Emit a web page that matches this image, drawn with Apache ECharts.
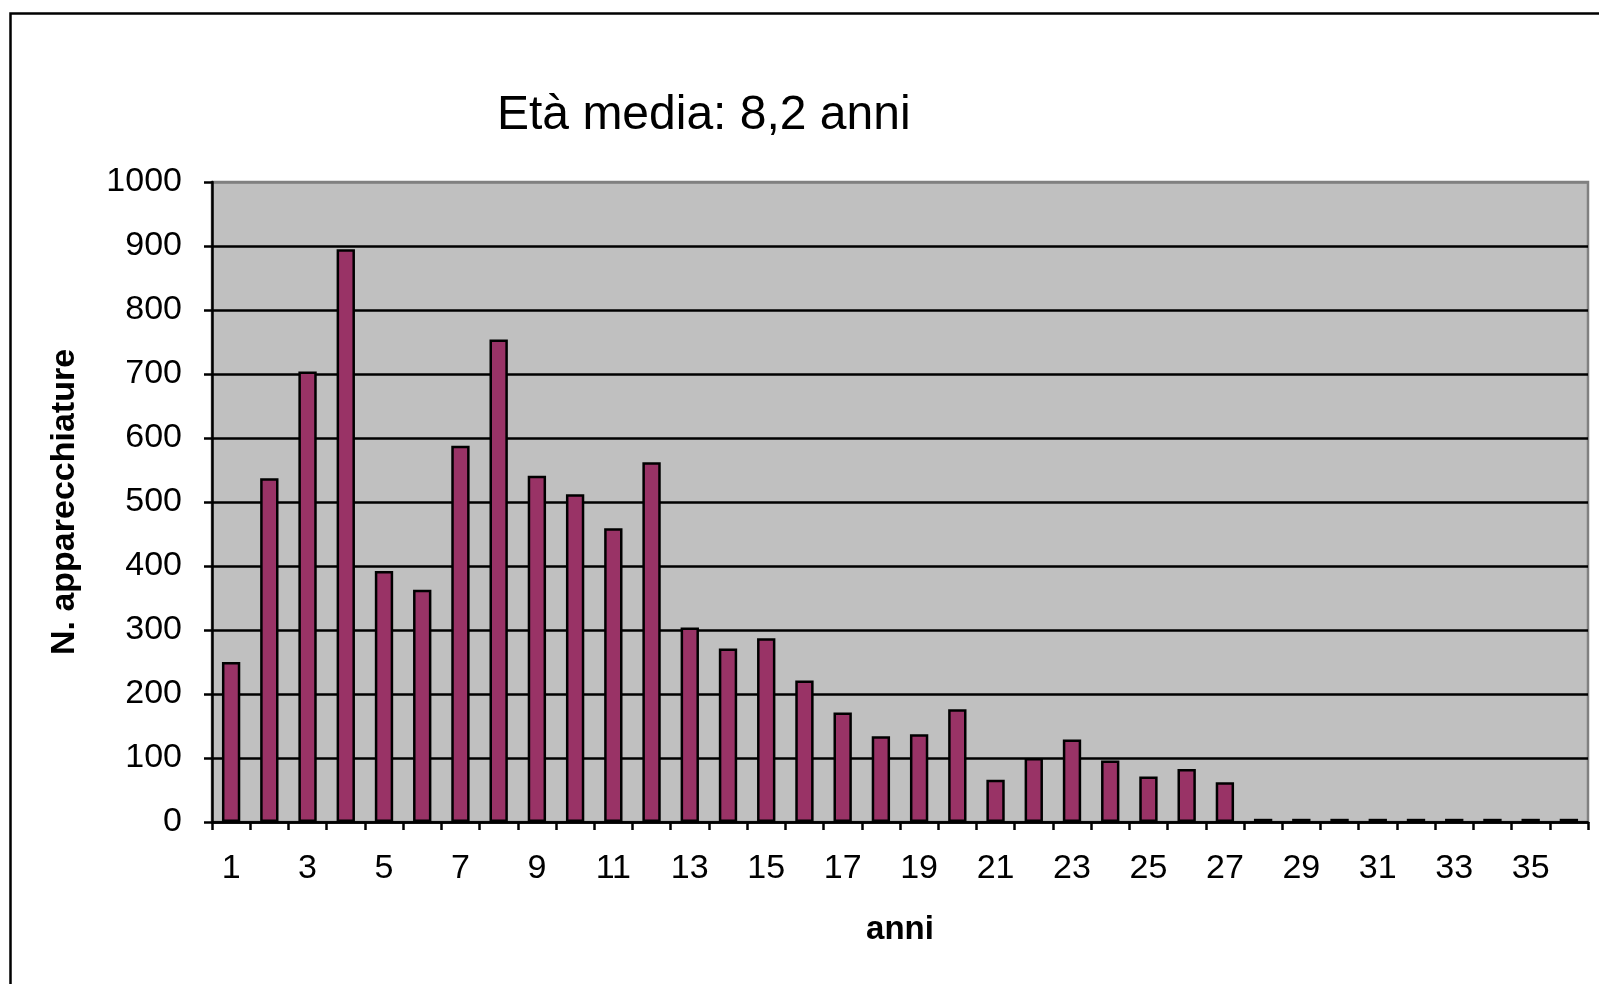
<!DOCTYPE html>
<html>
<head>
<meta charset="utf-8">
<script src="https://cdn.jsdelivr.net/npm/echarts@6/dist/echarts.min.js"></script>
<style>
html,body{margin:0;padding:0;background:#fff;}
#chart{width:1599px;height:984px;}
</style>
</head>
<body>
<div id="chart"></div>
<script>
const categories = ['1','2','3','4','5','6','7','8','9','10','11','12','13','14','15','16','17','18','19','20','21','22','23','24','25','26','27','28','29','30','31','32','33','34','35','36'];
const counts = [250,537,704,895,392,363,588,754,541,512,459,562,304,271,287,221,171,134,137,176,66,100,129,96,71,83,62,5,5,5,5,5,5,5,5,5];
const yTicks = [0,100,200,300,400,500,600,700,800,900,1000];
const titleText = 'Età media: 8,2 anni';
const yName = 'N. apparecchiature';
const xName = 'anni';

const FONT = '"Liberation Sans", Arial, sans-serif';
const gridColors = yTicks.map((v, i) => i === yTicks.length - 1 ? '#808080' : '#000');
const chart = echarts.init(document.getElementById('chart'), null, {renderer:'canvas'});
chart.setOption({
  animation: false,
  backgroundColor: '#ffffff',
  graphic: [{
    type: 'rect', left: 8, top: 11, z: 0,
    shape: {width: 1700, height: 1200},
    style: {fill: 'none', stroke: '#000', lineWidth: 2.5}
  }],
  title: {
    text: titleText, left: 492, top: 87,
    textStyle: {fontFamily: FONT, fontSize: 48, fontWeight: 'normal', color: '#000'}
  },
  grid: {
    left: 212, top: 182, right: 11, bottom: 162,
    show: true, backgroundColor: '#C0C0C0', borderColor: '#808080', borderWidth: 2.5
  },
  xAxis: {
    type: 'category', data: categories, boundaryGap: true,
    name: xName, nameLocation: 'middle', nameGap: 91,
    nameTextStyle: {fontFamily: FONT, fontSize: 33, fontWeight: 'bold', color: '#000'},
    axisLine: {lineStyle: {color: '#000', width: 2.5}},
    axisTick: {show: true, interval: 0, length: 8, lineStyle: {color: '#000', width: 2.5}},
    axisLabel: {interval: 1, margin: 30, fontFamily: FONT, fontSize: 34, color: '#000'},
    splitLine: {show: false}
  },
  yAxis: {
    type: 'value', min: 0, max: 1000, interval: 100,
    name: yName, nameLocation: 'middle', nameGap: 130,
    nameTextStyle: {fontFamily: FONT, fontSize: 34, fontWeight: 'bold', color: '#000'},
    axisLine: {show: true, lineStyle: {color: '#000', width: 2.5}},
    axisTick: {show: true, length: 8, lineStyle: {color: '#000', width: 2.5}},
    axisLabel: {margin: 30, fontFamily: FONT, fontSize: 34, color: '#000', formatter: v => String(v)},
    splitLine: {show: true, lineStyle: {color: gridColors, width: 2.5}}
  },
  series: [{
    type: 'bar', data: counts, barWidth: '48%',
    itemStyle: {color: '#993366', borderColor: '#000', borderWidth: 2.5}
  }]
});
</script>
</body>
</html>
